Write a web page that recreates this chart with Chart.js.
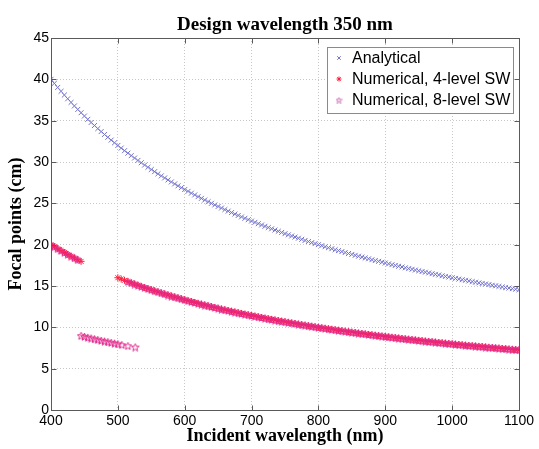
<!DOCTYPE html>
<html>
<head>
<meta charset="utf-8">
<script src="https://cdn.jsdelivr.net/npm/chart.js@4.4.0/dist/chart.umd.min.js"></script>
<style>
  html, body { margin: 0; padding: 0; background: #fff; }
  #wrap { width: 539px; height: 449px; position: relative; }
</style>
</head>
<body>
<div id="wrap"><canvas id="focalChart"></canvas></div>
<script>
"use strict"

const titleText = 'Design wavelength 350 nm';
const xTitle = 'Incident wavelength (nm)';
const yTitle = 'Focal points (cm)';
const seriesNames = ['Analytical', 'Numerical, 4-level SW', 'Numerical, 8-level SW'];

// incident wavelengths (nm), every 5 nm
const wavelengths = [
  400, 405, 410, 415, 420, 425, 430, 435, 440, 445,
  450, 455, 460, 465, 470, 475, 480, 485, 490, 495,
  500, 505, 510, 515, 520, 525, 530, 535, 540, 545,
  550, 555, 560, 565, 570, 575, 580, 585, 590, 595,
  600, 605, 610, 615, 620, 625, 630, 635, 640, 645,
  650, 655, 660, 665, 670, 675, 680, 685, 690, 695,
  700, 705, 710, 715, 720, 725, 730, 735, 740, 745,
  750, 755, 760, 765, 770, 775, 780, 785, 790, 795,
  800, 805, 810, 815, 820, 825, 830, 835, 840, 845,
  850, 855, 860, 865, 870, 875, 880, 885, 890, 895,
  900, 905, 910, 915, 920, 925, 930, 935, 940, 945,
  950, 955, 960, 965, 970, 975, 980, 985, 990, 995,
  1000, 1005, 1010, 1015, 1020, 1025, 1030, 1035, 1040, 1045,
  1050, 1055, 1060, 1065, 1070, 1075, 1080, 1085, 1090, 1095,
  1100
];

// focal point (cm), analytical
const analytical = [
  40.00, 39.51, 39.02, 38.55, 38.10, 37.65, 37.21, 36.78, 36.36, 35.96,
  35.56, 35.16, 34.78, 34.41, 34.04, 33.68, 33.33, 32.99, 32.65, 32.32,
  32.00, 31.68, 31.37, 31.07, 30.77, 30.48, 30.19, 29.91, 29.63, 29.36,
  29.09, 28.83, 28.57, 28.32, 28.07, 27.83, 27.59, 27.35, 27.12, 26.89,
  26.67, 26.45, 26.23, 26.02, 25.81, 25.60, 25.40, 25.20, 25.00, 24.81,
  24.62, 24.43, 24.24, 24.06, 23.88, 23.70, 23.53, 23.36, 23.19, 23.02,
  22.86, 22.70, 22.54, 22.38, 22.22, 22.07, 21.92, 21.77, 21.62, 21.48,
  21.33, 21.19, 21.05, 20.92, 20.78, 20.65, 20.51, 20.38, 20.25, 20.13,
  20.00, 19.88, 19.75, 19.63, 19.51, 19.39, 19.28, 19.16, 19.05, 18.93,
  18.82, 18.71, 18.60, 18.50, 18.39, 18.29, 18.18, 18.08, 17.98, 17.88,
  17.78, 17.68, 17.58, 17.49, 17.39, 17.30, 17.20, 17.11, 17.02, 16.93,
  16.84, 16.75, 16.67, 16.58, 16.49, 16.41, 16.33, 16.24, 16.16, 16.08,
  16.00, 15.92, 15.84, 15.76, 15.69, 15.61, 15.53, 15.46, 15.38, 15.31,
  15.24, 15.17, 15.09, 15.02, 14.95, 14.88, 14.81, 14.75, 14.68, 14.61,
  14.55
];

// numerical 4-level, 400..445 nm
const fourLevelShort = [20.00, 19.75, 19.51, 19.28, 19.05, 18.82, 18.60, 18.39, 18.18, 17.98];

// numerical 4-level, 500..1100 nm
const fourLevelLong = [
  16.00, 15.84, 15.69, 15.53, 15.38, 15.24, 15.09, 14.95, 14.81, 14.68,
  14.55, 14.41, 14.29, 14.16, 14.04, 13.91, 13.79, 13.68, 13.56, 13.45,
  13.33, 13.22, 13.11, 13.01, 12.90, 12.80, 12.70, 12.60, 12.50, 12.40,
  12.31, 12.21, 12.12, 12.03, 11.94, 11.85, 11.76, 11.68, 11.59, 11.51,
  11.43, 11.35, 11.27, 11.19, 11.11, 11.03, 10.96, 10.88, 10.81, 10.74,
  10.67, 10.60, 10.53, 10.46, 10.39, 10.32, 10.26, 10.19, 10.13, 10.06,
  10.00, 9.94, 9.88, 9.82, 9.76, 9.70, 9.64, 9.58, 9.52, 9.47,
  9.41, 9.36, 9.30, 9.25, 9.20, 9.14, 9.09, 9.04, 8.99, 8.94,
  8.89, 8.84, 8.79, 8.74, 8.70, 8.65, 8.60, 8.56, 8.51, 8.47,
  8.42, 8.38, 8.33, 8.29, 8.25, 8.21, 8.16, 8.12, 8.08, 8.04,
  8.00, 7.96, 7.92, 7.88, 7.84, 7.80, 7.77, 7.73, 7.69, 7.66,
  7.62, 7.58, 7.55, 7.51, 7.48, 7.44, 7.41, 7.37, 7.34, 7.31,
  7.27
];

// numerical 8-level, the lower branch
const eightLevelLowX = [445, 450, 455, 460, 465, 470, 475, 480, 485, 490, 495, 500, 506, 515, 526];
const eightLevelLowY = [8.99, 8.89, 8.79, 8.70, 8.60, 8.51, 8.42, 8.33, 8.25, 8.16, 8.08, 8.00, 7.90, 7.77, 7.62];

const wlShort = wavelengths.slice(0, 10);
const wlLong = wavelengths.slice(20);

const toPoints = (xs, ys) => xs.map((x, i) => ({x: x, y: ys[i]}));

// MATLAB style pentagram marker
function makePentagram(color, size) {
  const c = document.createElement('canvas');
  c.width = size;
  c.height = size;
  const g = c.getContext('2d');
  const r = size / 2 - 0.5;
  g.beginPath();
  for (let i = 0; i < 10; i++) {
    const rad = i % 2 ? r * 0.42 : r;
    const ang = -Math.PI / 2 + i * Math.PI / 5;
    const px = size / 2 + rad * Math.cos(ang);
    const py = size / 2 + 0.5 + rad * Math.sin(ang);
    if (i == 0) g.moveTo(px, py); else g.lineTo(px, py);
  }
  g.closePath();
  g.strokeStyle = color;
  g.lineWidth = 1;
  g.stroke();
  return c;
}

const blueColor = 'rgb(115, 115, 205)';
const redColor = 'rgb(255, 30, 60)';
const magentaColor = 'rgb(225, 40, 140)';
const pentagram = makePentagram(magentaColor, 9);
const legendPentagram = makePentagram('rgb(200, 110, 180)', 7);

const datasets = [
  {
    label: seriesNames[0],
    data: toPoints(wavelengths, analytical),
    pointStyle: 'crossRot',
    pointRadius: 3.5,
    borderWidth: 1,
    borderColor: blueColor,
    backgroundColor: blueColor,
    order: 0
  },
  {
    label: seriesNames[1],
    data: toPoints(wlShort, fourLevelShort).concat(toPoints(wlLong, fourLevelLong)),
    pointStyle: 'star',
    pointRadius: 3.5,
    borderWidth: 1,
    borderColor: redColor,
    backgroundColor: redColor,
    order: 2
  },
  {
    label: seriesNames[2],
    data: toPoints(wlShort.slice(0, 9), fourLevelShort.slice(0, 9))
      .concat(toPoints(eightLevelLowX, eightLevelLowY))
      .concat(toPoints(wlLong.slice(3), fourLevelLong.slice(3))),
    pointStyle: pentagram,
    pointRadius: 4,
    borderWidth: 1,
    borderColor: magentaColor,
    backgroundColor: magentaColor,
    order: 1
  }
];

// frame, inward ticks, titles and the boxed legend
const decorations = {
  id: 'decorations',
  afterDraw(chart) {
    const ctx = chart.ctx;
    const a = chart.chartArea;
    const xs = chart.scales.x;
    const ys = chart.scales.y;
    const line = (x1, y1, x2, y2) => {
      ctx.beginPath();
      ctx.moveTo(x1, y1);
      ctx.lineTo(x2, y2);
      ctx.stroke();
    };
    ctx.save();
    ctx.strokeStyle = '#5a5a5a';
    ctx.lineWidth = 1;
    const L = Math.round(a.left) + 0.5, R = Math.round(a.right) + 0.5;
    const T = Math.round(a.top) + 0.5, B = Math.round(a.bottom) + 0.5;
    ctx.strokeRect(L, T, R - L, B - T);
    xs.ticks.forEach(t => {
      const px = Math.round(xs.getPixelForValue(t.value)) + 0.5;
      line(px, B, px, B - 5);
      line(px, T, px, T + 5);
    });
    ys.ticks.forEach(t => {
      const py = Math.round(ys.getPixelForValue(t.value)) + 0.5;
      line(L, py, L + 5, py);
      line(R, py, R - 5, py);
    });

    ctx.fillStyle = '#000';
    ctx.textAlign = 'center';
    ctx.textBaseline = 'alphabetic';
    ctx.font = 'bold 19px "Liberation Serif"';
    const cx = (a.left + a.right) / 2;
    ctx.fillText(titleText, cx, 30);
    ctx.font = 'bold 18px "Liberation Serif"';
    ctx.fillText(xTitle, cx, 441);
    ctx.save();
    ctx.translate(21, (a.top + a.bottom) / 2);
    ctx.rotate(-Math.PI / 2);
    ctx.fillText(yTitle, 0, 0);
    ctx.restore();

    // legend box
    ctx.fillStyle = '#fff';
    ctx.fillRect(327, 47, 186, 66);
    ctx.strokeStyle = '#8a8a8a';
    ctx.strokeRect(327.5, 47.5, 186, 66);
    ctx.font = '16px "Liberation Sans"';
    ctx.textAlign = 'left';
    ctx.textBaseline = 'middle';
    chart.data.datasets.forEach((ds, i) => {
      const rowY = 58 + i * 21;
      ctx.strokeStyle = ds.borderColor;
      ctx.fillStyle = ds.backgroundColor;
      Chart.helpers.drawPoint(ctx, {
        pointStyle: i == 2 ? legendPentagram : ds.pointStyle,
        radius: 2.5,
        borderWidth: 1,
        rotation: 0
      }, 339, rowY);
      ctx.fillStyle = '#000';
      ctx.fillText(ds.label, 352, rowY + 1);
    });
    ctx.restore();
  }
};

new Chart(document.getElementById('focalChart'), {
  type: 'scatter',
  data: {datasets: datasets},
  options: {
    responsive: true,
    maintainAspectRatio: false,
    animation: false,
    layout: {padding: {top: 38, right: 20, left: 0, bottom: 0}},
    plugins: {
      legend: {display: false},
      tooltip: {enabled: false},
      title: {display: false}
    },
    scales: {
      x: {
        type: 'linear',
        min: 400,
        max: 1100,
        afterFit: scale => { scale.height = 39; },
        ticks: {
          stepSize: 100,
          padding: 3,
          color: '#000',
          font: {family: '"Liberation Sans"', size: 14},
          maxRotation: 0,
          callback: value => String(value)
        },
        grid: {color: '#c8c8c8', drawTicks: false},
        border: {display: false, dash: [1, 2]}
      },
      y: {
        min: 0,
        max: 45,
        afterFit: scale => { scale.width = 51; },
        ticks: {
          stepSize: 5,
          padding: 2,
          color: '#000',
          font: {family: '"Liberation Sans"', size: 14},
          callback: value => String(value)
        },
        grid: {color: '#c8c8c8', drawTicks: false},
        border: {display: false, dash: [1, 2]}
      }
    }
  },
  plugins: [decorations]
});
</script>
</body>
</html>
